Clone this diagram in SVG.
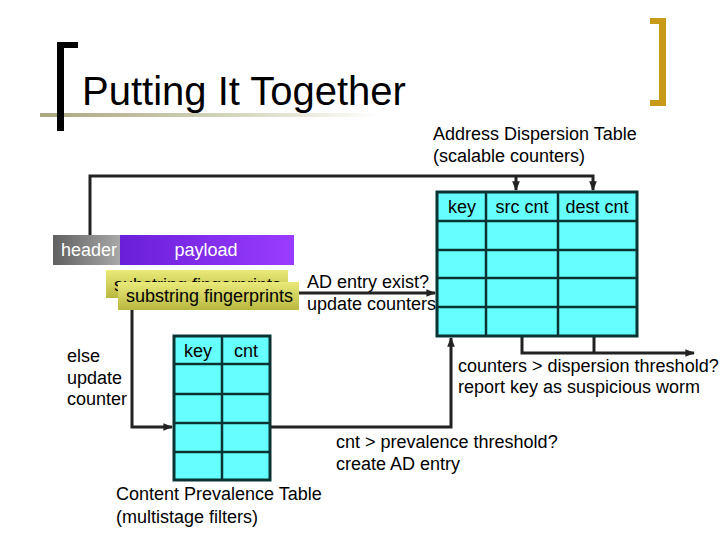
<svg xmlns="http://www.w3.org/2000/svg" width="720" height="540" viewBox="0 0 720 540">
<style>
text{font-family:"Liberation Sans",Arial,sans-serif;font-size:18px;fill:#000}
.tbl{fill:#66ffff;stroke:#0a3333;stroke-width:3}
.grid{stroke:#0a3333;stroke-width:2.5;fill:none}
.ln{stroke:#222;stroke-width:3;fill:none}
.wt{fill:#fff}
</style>
<defs>
<linearGradient id="rule" x1="0" y1="0" x2="1" y2="0">
<stop offset="0" stop-color="#a8a880"/><stop offset="0.6" stop-color="#d8d8c0"/><stop offset="1" stop-color="#fff"/>
</linearGradient>
<linearGradient id="hdr" x1="0" y1="0" x2="1" y2="0">
<stop offset="0" stop-color="#606060"/><stop offset="1" stop-color="#a8a8a8"/>
</linearGradient>
<linearGradient id="pay" x1="0" y1="0" x2="1" y2="0">
<stop offset="0" stop-color="#6a1fd8"/><stop offset="1" stop-color="#9a3cff"/>
</linearGradient>
<linearGradient id="fp" x1="0" y1="0" x2="0" y2="1">
<stop offset="0" stop-color="#eaea7a"/><stop offset="1" stop-color="#b8b840"/>
</linearGradient>
<marker id="ah" viewBox="0 0 10 10" refX="9" refY="5" markerWidth="3.2" markerHeight="3.2" orient="auto" markerUnits="strokeWidth">
<path d="M0,1 L10,5 L0,9 z" fill="#222"/>
</marker>
</defs>

<g id="title">
<rect x="40" y="113" width="340" height="4" fill="url(#rule)"/>
<path d="M57,42 H78 V48 H64 V131 H57 Z" fill="#000"/>
<path d="M650,18 H666 V106 H650 V100 H659 V24 H650 Z" fill="#c89a1a"/>
<text x="82" y="105" style="font-size:40px">Putting It Together</text>
</g>

<g id="connectors">
<path class="ln" d="M90,235 V176 H593 V190" marker-end="url(#ah)"/>
<path class="ln" d="M516,176 V190" marker-end="url(#ah)"/>
<path class="ln" d="M299,293 H435" marker-end="url(#ah)"/>
<path class="ln" d="M132,310 V427 H172" marker-end="url(#ah)"/>
<path class="ln" d="M270,427 H451 V338" marker-end="url(#ah)"/>
<path class="ln" d="M522,337 V353 H694" marker-end="url(#ah)"/>
<path class="ln" d="M594,337 V353"/>
</g>

<g id="ad-table">
<rect class="tbl" x="437" y="192" width="200" height="144"/>
<path class="grid" d="M486,192 V336 M558,192 V336 M437,221 H637 M437,250 H637 M437,278 H637 M437,307 H637"/>
<text x="462" y="213" text-anchor="middle" fill="#0a3333">key</text>
<text x="522" y="213" text-anchor="middle" fill="#0a3333">src cnt</text>
<text x="597" y="213" text-anchor="middle" fill="#0a3333">dest cnt</text>
<text x="433" y="140">Address Dispersion Table</text>
<text x="433" y="162">(scalable counters)</text>
</g>

<g id="packet">
<rect x="53" y="235" width="67" height="30" fill="url(#hdr)"/>
<rect x="120" y="235" width="174" height="30" fill="url(#pay)"/>
<text x="61" y="256" class="wt">header</text>
<text x="206" y="256" class="wt" text-anchor="middle">payload</text>
</g>

<g id="fingerprints">
<rect x="106" y="270" width="182" height="28" fill="url(#fp)"/>
<text x="114" y="291" fill="#333">substring fingerprints</text>
<rect x="118" y="282" width="181" height="28" fill="url(#fp)"/>
<text x="126" y="302" fill="#222">substring fingerprints</text>
</g>

<g id="ad-label">
<text x="307" y="288">AD entry exist?</text>
<text x="307" y="310">update counters</text>
</g>

<g id="cp-table">
<rect class="tbl" x="174" y="336" width="96" height="144"/>
<path class="grid" d="M222,336 V480 M174,364 H270 M174,394 H270 M174,423 H270 M174,452 H270"/>
<text x="198" y="357" text-anchor="middle" fill="#0a3333">key</text>
<text x="246" y="357" text-anchor="middle" fill="#0a3333">cnt</text>
<text x="116" y="500">Content Prevalence Table</text>
<text x="116" y="523">(multistage filters)</text>
</g>

<g id="else-label">
<text x="67" y="362">else</text>
<text x="67" y="384">update</text>
<text x="67" y="405">counter</text>
</g>

<g id="dispersion-label">
<text x="458" y="372">counters &gt; dispersion threshold?</text>
<text x="458" y="393">report key as suspicious worm</text>
</g>

<g id="prevalence-label">
<text x="336" y="448">cnt &gt; prevalence threshold?</text>
<text x="336" y="470">create AD entry</text>
</g>
</svg>
